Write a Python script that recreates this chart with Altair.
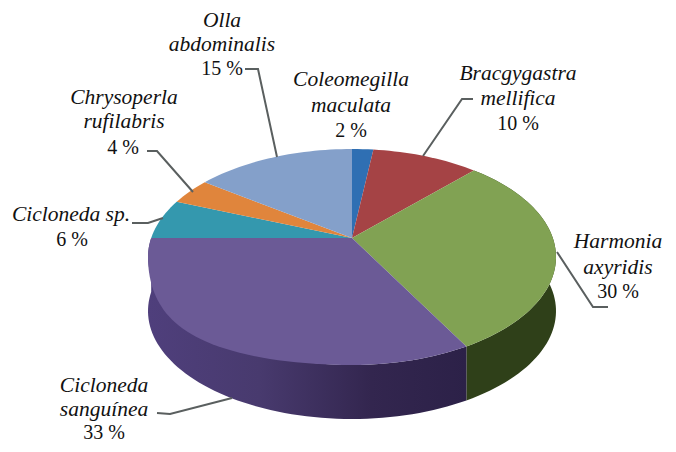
import math
import altair as alt
import pandas as pd

names = ["Coleomegilla maculata", "Bracgygastra mellifica", "Harmonia axyridis",
         "Cicloneda sanguínea", "Cicloneda sp.", "Chrysoperla rufilabris", "Olla abdominalis"]
shares = [2, 10, 30, 33, 6, 4, 15]
top_colors = ["#2f6fb3", "#a54345", "#81a253", "#6b5a96", "#3498ae", "#e0853c", "#84a0ca"]

# Pie geometry, in the picture's frame
CX, CY, RX, RY = 352, 257, 204, 108
HUB = 0.176       # perspective shift of the pie's centre
DEPTH = 54

label_lines = [
    ("Olla", 222, 21, "italic"), ("abdominalis", 222, 45, "italic"), ("15 %", 222, 69, "normal"),
    ("Coleomegilla", 351, 80, "italic"), ("maculata", 351, 106, "italic"), ("2 %", 351, 131, "normal"),
    ("Bracgygastra", 518, 74, "italic"), ("mellifica", 518, 99, "italic"), ("10 %", 518, 124, "normal"),
    ("Chrysoperla", 124, 98, "italic"), ("rufilabris", 124, 122, "italic"), ("4 %", 123, 148, "normal"),
    ("Cicloneda sp.", 71, 215, "italic"), ("6 %", 72, 240, "normal"),
    ("Harmonia", 618, 242, "italic"), ("axyridis", 618, 268, "italic"), ("30 %", 618, 292, "normal"),
    ("Cicloneda", 104, 386, "italic"), ("sanguínea", 104, 410, "italic"), ("33 %", 104, 433, "normal"),
]
leaders = [
    [(245, 69), (258, 69), (277, 157)],
    [(147, 151), (157, 151), (193, 192)],
    [(132, 223), (148, 223), (163, 218)],
    [(473, 99), (462, 99), (423, 156)],
    [(557, 252), (593, 307), (608, 307)],
    [(157, 413), (170, 414), (232, 398)],
]


def rim(frac):
    a = 2 * math.pi * frac / 100
    u, v = math.sin(a), math.cos(a)
    d = 1 + HUB * v
    return u * math.sqrt(1 - HUB ** 2) / d, (v + HUB) / d


def to_xy(X, Y, bulge=0.0, dy=0.0):
    dx = -bulge * abs(X) * Y * Y if (X < 0 and Y < 0) else 0.0
    return CX + RX * X + dx, CY - RY * Y + dy


def arc(start, end, bulge=0.0, dy=0.0):
    n = max(int((end - start) * 2), 2)
    return [to_xy(*rim(start + (end - start) * k / n), bulge, dy) for k in range(n + 1)]


def frame(pts):
    return pd.DataFrame({"x": [p[0] for p in pts], "y": [p[1] for p in pts], "i": range(len(pts))})


xs = alt.Scale(domain=[8, 668], range=[0, 660], nice=False, zero=False)
ys = alt.Scale(domain=[8, 444], range=[0, 436], nice=False, zero=False)
X_ = alt.X("x:Q", scale=xs, axis=None)
Y_ = alt.Y("y:Q", scale=ys, axis=None)


def poly(pts, fill):
    return alt.Chart(frame(pts)).mark_line(filled=True, fill=fill, stroke=None, strokeWidth=0).encode(
        x=X_, y=Y_, order=alt.Order("i:Q"))


cum = [0]
for s in shares:
    cum.append(cum[-1] + s)

layers = []

# side walls (only the two front slices show)
green_side = arc(cum[2], cum[3]) + arc(cum[2], cum[3], dy=DEPTH)[::-1]
purple_side = arc(cum[3], cum[4]) + arc(cum[3], cum[4], dy=DEPTH)[::-1]
layers.append(poly(green_side, "#2f4019"))
layers.append(poly(purple_side, alt.Gradient(
    gradient="linear", x1=1, x2=0, y1=0, y2=0,
    stops=[alt.GradientStop(color="#2c2148", offset=0),
           alt.GradientStop(color="#33264f", offset=0.3),
           alt.GradientStop(color="#483a6e", offset=0.65),
           alt.GradientStop(color="#4f3f7c", offset=1)])))

# top surfaces
for k, col in enumerate(top_colors):
    hub_pt = to_xy(0, HUB)
    bulge = 50 if names[k] == "Cicloneda sanguínea" else 0
    layers.append(poly([hub_pt] + arc(cum[k], cum[k + 1], bulge=bulge), col))

# leader lines
lead_rows = [{"x": p[0], "y": p[1], "i": j, "g": g}
             for g, line in enumerate(leaders) for j, p in enumerate(line)]
layers.append(alt.Chart(pd.DataFrame(lead_rows)).mark_line(color="#5a5f5f", strokeWidth=2).encode(
    x=X_, y=Y_, detail="g:N", order=alt.Order("i:Q")))

# labels
text_df = pd.DataFrame(label_lines, columns=["t", "x", "y", "style"])
for st, fs in [("italic", 21.5), ("normal", 20)]:
    layers.append(alt.Chart(text_df[text_df["style"] == st]).mark_text(
        font="Liberation Serif, Times New Roman, serif", fontSize=fs, fontStyle=st, color="#111111",
        align="center", baseline="middle").encode(x=X_, y=Y_, text="t:N"))

chart = alt.layer(*layers).properties(
    width=660, height=436, padding=0, autosize=alt.AutoSizeParams(type="none"),
    background="white"
).configure_view(stroke=None)

chart.save("out.html", embed_options={"renderer": "svg", "actions": False})
